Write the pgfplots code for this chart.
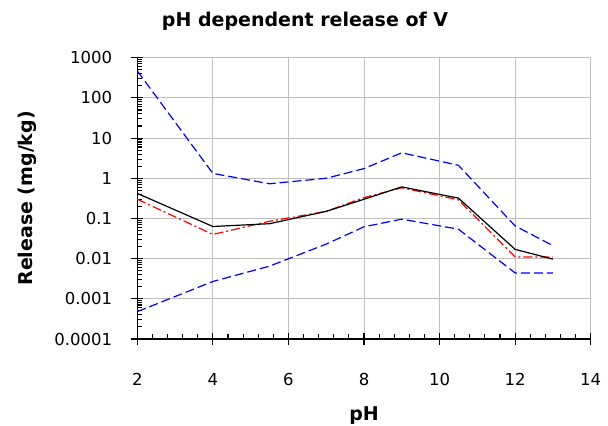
\documentclass[border=0pt]{standalone}
\usepackage{fontspec}
\setmainfont{DejaVu Sans}
\usepackage{pgfplots}
\pgfplotsset{compat=1.18}
\definecolor{gridgray}{RGB}{192,192,192}
\definecolor{xlblue}{RGB}{0,0,255}
\definecolor{xlred}{RGB}{255,0,0}

\begin{document}
\begin{tikzpicture}
\useasboundingbox (0,0) rectangle (608bp,426bp);
\begin{axis}[
    at={(137.3bp,87bp)}, anchor=south west,
    scale only axis,
    width=453.4bp, height=281.3bp,
    ymode=log,
    xmin=2, xmax=14,
    ymin=1e-4, ymax=1e3,
    xtick={2,4,6,8,10,12,14},
    xticklabels={2,4,6,8,10,12,14},
    ytick={1e-4,1e-3,1e-2,1e-1,1,10,100,1000},
    yticklabels={0.0001,0.001,0.01,0.1,1,10,100,1000},
    minor x tick num=4,
    axis lines=left,
    axis line style={-, black, line width=1.4bp},
    grid=major,
    major grid style={gridgray, line width=1bp},
    tick align=center,
    major tick length=12bp,
    minor tick length=5bp,
    tick style={black, line width=1.1bp},
    minor x tick style={yshift=2.5bp},
    minor y tick style={xshift=2.5bp},
    tick label style={font=\fontsize{16.5bp}{18bp}\selectfont},
    xticklabel style={anchor=base, inner sep=0pt, yshift=-41bp},
    yticklabel style={anchor=east, inner sep=0pt, xshift=-19bp},
    title={pH dependent release of V},
    title style={font=\fontsize{19bp}{22bp}\selectfont\bfseries,
                 at={(rel axis cs:0.37,1.088)}, anchor=base},
    xlabel={pH},
    xlabel style={font=\fontsize{19bp}{22bp}\selectfont\bfseries,
                  at={(rel axis cs:0.5,-0.288)}, anchor=base},
    ylabel={Release (mg/kg)},
    ylabel style={font=\fontsize{19bp}{22bp}\selectfont\bfseries,
                  at={(rel axis cs:-0.232,0.5)}, anchor=base, rotate=0},
    clip=false,
]
% upper bound
\addplot[xlblue, line width=1.2bp, dash pattern=on 9bp off 4bp] coordinates {
    (2,470) (4,1.32) (5.5,0.73) (7,1.0) (8,1.74) (9,4.3) (10.5,2.1) (12,0.065) (13,0.021)
};
% lower bound
\addplot[xlblue, line width=1.2bp, dash pattern=on 9bp off 4bp] coordinates {
    (2,0.00048) (4,0.0027) (5.5,0.0065) (7,0.023) (8,0.062) (9,0.096) (10.5,0.054) (12,0.0044) (13,0.0044)
};
% red dash-dot
\addplot[xlred, line width=1.2bp, dash pattern=on 9bp off 3bp on 2bp off 3bp] coordinates {
    (2,0.30) (4,0.040) (5.5,0.085) (7,0.15) (8,0.33) (9,0.58) (10.5,0.29) (12,0.011) (13,0.011)
};
% median (black)
\addplot[black, line width=1.2bp] coordinates {
    (2,0.42) (4,0.063) (5.5,0.074) (7,0.15) (8,0.30) (9,0.61) (10.5,0.32) (12,0.017) (13,0.0097)
};
\end{axis}
\end{tikzpicture}
\end{document}
